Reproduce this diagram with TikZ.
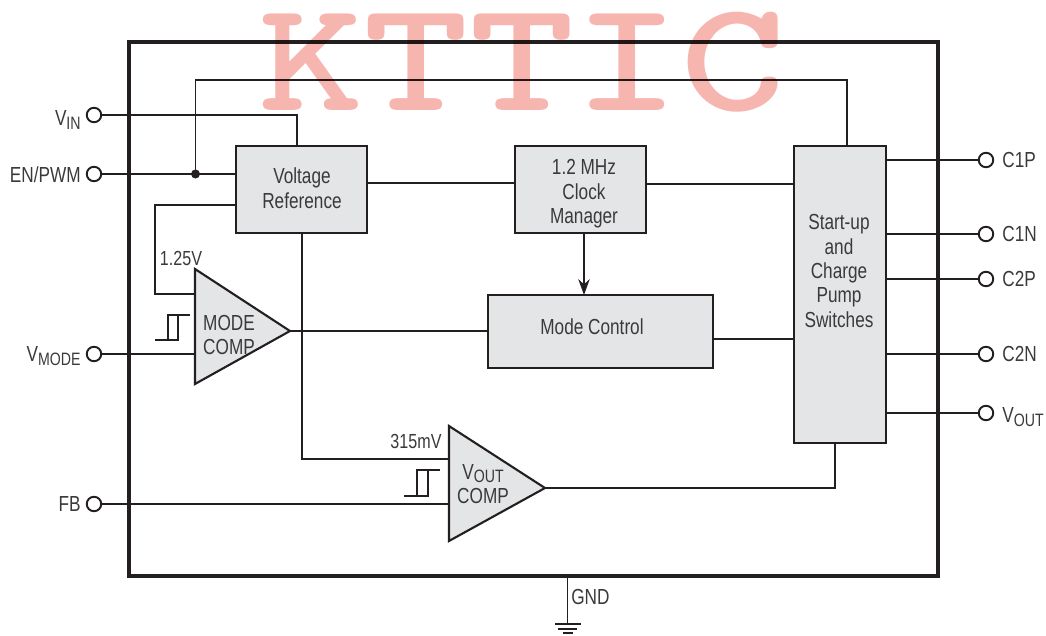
\documentclass[tikz,border=0pt]{standalone}
\usepackage{fontspec}
\setmainfont[FakeStretch=0.79]{Liberation Sans}
\usetikzlibrary{arrows.meta,calc}
\definecolor{inkdark}{HTML}{231F20}
\definecolor{textdark}{HTML}{3A3A3A}
\definecolor{boxgray}{HTML}{E4E5E7}
\definecolor{markred}{HTML}{F6B5AE}
\newcommand{\lowsub}[1]{\raisebox{-0.32ex}{\fontsize{10.2}{12}\selectfont #1}}
\tikzset{
  wire/.style={draw=inkdark, line width=0.9pt},
  blockbox/.style={draw=inkdark, line width=1.2pt, fill=boxgray, outer sep=0pt, inner sep=0pt},
  pinhole/.style={circle, draw=inkdark, line width=1.1pt, fill=white, minimum size=0.29cm, inner sep=0pt, outer sep=0pt},
  lbl/.style={text=textdark, align=center, inner sep=0pt, font=\fontsize{12.4}{13.9}\selectfont},
  numlbl/.style={lbl, font=\fontsize{11.6}{13.9}\selectfont},
  cmpshape/.style={draw=inkdark, line width=1.2pt, fill=boxgray, line join=miter},
}
\begin{document}
\begin{tikzpicture}[x=0.02cm, y=-0.02cm]
  \useasboundingbox (0,0) rectangle (1046,636);

  % package outline
  \draw[inkdark, line width=2.5pt] (129,42) rectangle (938,576);

  % blocks
  \node[blockbox, minimum width=2.62cm, minimum height=1.74cm] (vref) at (301.5,189.5) {};
  \node[blockbox, minimum width=2.62cm, minimum height=1.74cm] (clock) at (580.5,189.5) {};
  \node[blockbox, minimum width=4.5cm, minimum height=1.46cm] (mode) at (600.5,331.5) {};
  \node[blockbox, minimum width=1.84cm, minimum height=5.94cm] (sw) at (840,294.5) {};

  \node[lbl] (vreftxt) at (302,188) {Voltage\\Reference};
  \node[lbl] (clocktxt) at (584,194) {1.2 MHz\\Clock\\Manager};
  \node[lbl] (modetxt) at (592,327) {Mode Control};
  \node[lbl] (swtxt) at (839,271) {Start-up\\and\\Charge\\Pump\\Switches};

  % comparators
  \draw[cmpshape] (195,269) coordinate (mcTop) -- (195,384) coordinate (mcBot)
    -- (290,331) coordinate (mcOut) -- cycle;
  \draw[cmpshape] (449,426) coordinate (vcTop) -- (449,541) coordinate (vcBot)
    -- (545,488) coordinate (vcOut) -- cycle;
  \node[lbl, align=left] (mctxt) at (229,335) {MODE\\COMP};
  \node[lbl, align=center] (vctxt) at (483,484) {V\lowsub{OUT}\\COMP};

  % pins
  \node[pinhole] (vin) at (94,115) {};
  \node[pinhole] (en) at (94,174) {};
  \node[pinhole] (vmode) at (94,354) {};
  \node[pinhole] (fb) at (94,504) {};
  \node[pinhole] (c1p) at (986,160) {};
  \node[pinhole] (c1n) at (986,234) {};
  \node[pinhole] (c2p) at (986,279) {};
  \node[pinhole] (c2n) at (986,354) {};
  \node[pinhole] (vout) at (986,413) {};

  \node[lbl, anchor=east] (vintxt) at (81,120) {V\lowsub{IN}};
  \node[lbl, anchor=east] (entxt) at (81,175) {EN/PWM};
  \node[lbl, anchor=east] (vmodetxt) at (81,356) {V\lowsub{MODE}};
  \node[lbl, anchor=east] (fbtxt) at (81,504) {FB};
  \node[lbl, anchor=west] (c1ptxt) at (1002,160) {C1P};
  \node[lbl, anchor=west] (c1ntxt) at (1002,234) {C1N};
  \node[lbl, anchor=west] (c2ptxt) at (1002,279) {C2P};
  \node[lbl, anchor=west] (c2ntxt) at (1002,354) {C2N};
  \node[lbl, anchor=west] (vouttxt) at (1002,417) {V\lowsub{OUT}};
  \node[numlbl] (reftxt) at (181,258) {1.25V};
  \node[numlbl] (thrtxt) at (416,441) {315mV};
  \node[lbl, anchor=west] (gndtxt) at (571,597) {GND};

  % connection points
  \coordinate (vinIn) at (297,146);
  \coordinate (swTop) at (847,146);
  \coordinate (swBot) at (835,443);
  \coordinate (vrefOut) at (236,205);
  \coordinate (vrefDown) at (302,233);
  \coordinate (gndTop) at (567.5,576);
  \coordinate (gndEnd) at (567.5,624);
  \coordinate (dot) at (195.5,174);

  % wires
  \draw[wire] (vin) -| (vinIn);
  \draw[wire] (en) -- (en -| vref.west);
  \draw[wire] (dot) -- (195.5,80) -| (swTop);
  \fill[inkdark] (dot) circle (4.5);
  \draw[wire] (vrefOut) -- (155,205) |- (mcTop |- 0,294);
  \draw[wire] (vmode) -- (vmode -| mcBot);
  \draw[wire] (vrefDown) |- (vcTop |- 0,459);
  \draw[wire] (fb) -- (fb -| vcBot);
  \draw[wire] (mcOut) -- (mcOut -| mode.west);
  \draw[wire] (vcOut) -| (swBot);
  \draw[wire] (vref.east |- 0,183) -- (clock.west |- 0,183);
  \draw[wire] (clock.east |- 0,184) -- (sw.west |- 0,184);
  \draw[wire] (mode.east |- 0,339) -- (sw.west |- 0,339);
  \draw[wire, -{Stealth[length=9pt,width=6.5pt]}] (clock.south -| 584,0) -- (mode.north -| 584,0);
  \foreach \p in {c1p,c1n,c2p,c2n,vout}
    \draw[wire] (\p -| sw.east) -- (\p);

  % hysteresis marks
  \draw[wire, line width=0.7pt] (155,340) -- (178,340) -- (178,315);
  \draw[wire, line width=0.7pt] (168,340) -- (168,315) -- (190,315);
  \draw[wire, line width=0.7pt] (404,496) -- (428,496) -- (428,470);
  \draw[wire, line width=0.7pt] (417,496) -- (417,470) -- (440,470);

  % ground
  \draw[wire] (gndTop) -- (gndEnd);
  \draw[wire] (555,624) -- (581,624);
  \draw[wire] (558,629) -- (577,629);
  \draw[wire] (563,633) -- (573,633);

  % watermark
  \begin{scope}[blend mode=multiply]
    \node[text=markred, anchor=base, inner sep=0pt, xscale=1.27, transform shape, font=\ttfamily\bfseries\fontsize{90}{91}\selectfont] (kttic) at (522,110) {KTTIC};
  \end{scope}
\end{tikzpicture}
\end{document}
